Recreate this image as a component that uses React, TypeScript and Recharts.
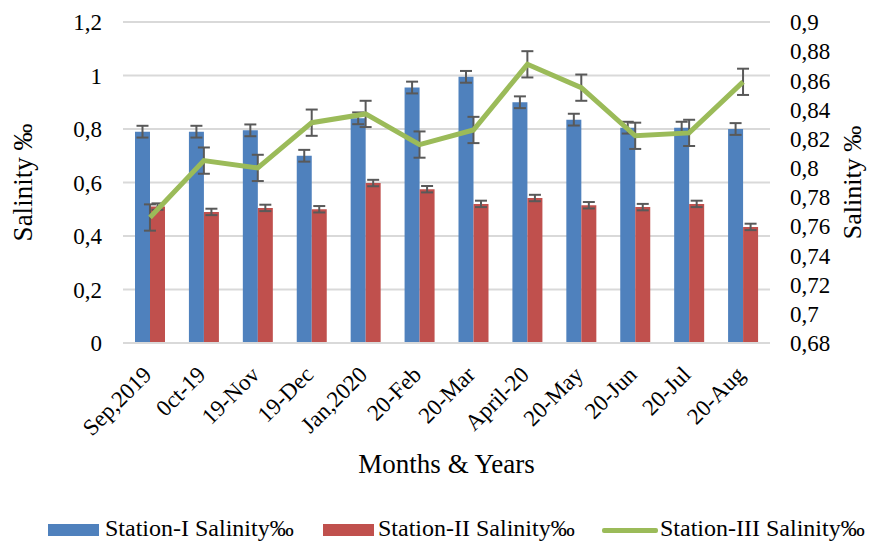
import React from 'react';
import {
  ComposedChart,
  Bar,
  Line,
  XAxis,
  YAxis,
  CartesianGrid,
  ErrorBar,
  Legend,
} from 'recharts';

const months = [
  'Sep,2019', '0ct-19', '19-Nov', '19-Dec', 'Jan,2020', '20-Feb',
  '20-Mar', 'April-20', '20-May', '20-Jun', '20-Jul', '20-Aug',
];
const station1 = [0.79, 0.79, 0.795, 0.70, 0.84, 0.955, 0.995, 0.90, 0.835, 0.805, 0.805, 0.80];
const station1Err = [0.022, 0.022, 0.022, 0.022, 0.022, 0.022, 0.022, 0.022, 0.022, 0.022, 0.022, 0.022];
const station2 = [0.51, 0.49, 0.505, 0.50, 0.598, 0.575, 0.52, 0.542, 0.515, 0.508, 0.52, 0.434];
const station2Err = [0.012, 0.012, 0.012, 0.012, 0.012, 0.012, 0.012, 0.012, 0.012, 0.012, 0.012, 0.012];
const station3 = [0.766, 0.805, 0.80, 0.831, 0.837, 0.816, 0.826, 0.871, 0.855, 0.822, 0.824, 0.859];
const station3Err = [0.009, 0.009, 0.009, 0.009, 0.009, 0.009, 0.009, 0.009, 0.009, 0.009, 0.009, 0.009];

const leftTicks = [0, 0.2, 0.4, 0.6, 0.8, 1, 1.2];
const rightTicks = [0.68, 0.7, 0.72, 0.74, 0.76, 0.78, 0.8, 0.82, 0.84, 0.86, 0.88, 0.9];

const data = months.map((m, i) => ({
  month: m,
  s1: station1[i],
  s1e: station1Err[i],
  s2: station2[i],
  s2e: station2Err[i],
  s3: station3[i],
  s3e: station3Err[i],
}));

const FONT = '"Liberation Serif", "DejaVu Serif", serif';
const comma = (v: number) => String(v).replace('.', ',');

const MonthTick = (props: any) => {
  const { x, y, payload } = props;
  return (
    <g transform={`translate(${x + 3},${y + 25})`}>
      <text
        transform="rotate(-45)"
        textAnchor="end"
        fontFamily={FONT}
        fontSize={23}
        fill="#000"
      >
        {payload.value}
      </text>
    </g>
  );
};

const LegendBox = () => (
  <div style={{ position: 'relative', height: 36, fontFamily: FONT, fontSize: 24, lineHeight: '28px', color: '#000', whiteSpace: 'nowrap' }}>
    <div style={{ position: 'absolute', left: 48, top: 16, width: 51, height: 12, background: '#4f81bd' }} />
    <span style={{ position: 'absolute', left: 105, top: 6 }}>Station-I Salinity‰</span>
    <div style={{ position: 'absolute', left: 323, top: 16, width: 51, height: 12, background: '#c0504d' }} />
    <span style={{ position: 'absolute', left: 378, top: 6 }}>Station-II Salinity‰</span>
    <div style={{ position: 'absolute', left: 602, top: 20, width: 56, height: 5, background: '#9bbb59', borderRadius: 2 }} />
    <span style={{ position: 'absolute', left: 660, top: 6 }}>Station-III Salinity‰</span>
  </div>
);

export default function App() {
  return (
    <div style={{ position: 'absolute', left: 0, top: 0, width: 869, height: 548, background: '#fff' }}>
      <ComposedChart
        width={869}
        height={548}
        data={data}
        margin={{ top: 22, right: 0, bottom: 75, left: 0 }}
        barGap={0}
        barSize={15}
      >
        <CartesianGrid yAxisId="left" vertical={false} stroke="#d9d9d9" strokeWidth={2} />
        <XAxis
          dataKey="month"
          height={130}
          interval={0}
          tickLine={false}
          axisLine={{ stroke: '#d9d9d9', strokeWidth: 2 }}
          tick={<MonthTick />}
          label={{
            value: 'Months & Years',
            position: 'insideBottom',
            offset: 0,
            fontFamily: FONT,
            fontSize: 27,
            fill: '#000',
          }}
        />
        <YAxis
          yAxisId="left"
          width={123}
          domain={[0, 1.2]}
          ticks={leftTicks}
          interval={0}
          tickLine={false}
          axisLine={false}
          tickSize={0}
          tickMargin={21}
          tickFormatter={comma}
          tick={{ fontFamily: FONT, fontSize: 23, fill: '#000' }}
          label={{
            value: 'Salinity ‰',
            angle: -90,
            position: 'insideLeft',
            offset: 22,
            fontFamily: FONT,
            fontSize: 27,
            fill: '#000',
            style: { textAnchor: 'middle' },
          }}
        />
        <YAxis
          yAxisId="right"
          orientation="right"
          width={99}
          domain={[0.68, 0.9]}
          ticks={rightTicks}
          interval={0}
          tickLine={false}
          axisLine={false}
          tickSize={0}
          tickMargin={20}
          tickFormatter={comma}
          tick={{ fontFamily: FONT, fontSize: 23, fill: '#000' }}
          label={{
            value: 'Salinity ‰',
            angle: -90,
            position: 'insideRight',
            offset: 17,
            fontFamily: FONT,
            fontSize: 26,
            fill: '#000',
            style: { textAnchor: 'middle' },
          }}
        />
        <Bar yAxisId="left" dataKey="s1" name="Station-I Salinity‰" fill="#4f81bd" isAnimationActive={false}>
          <ErrorBar dataKey="s1e" width={6} stroke="#595959" strokeWidth={2} direction="y" />
        </Bar>
        <Bar yAxisId="left" dataKey="s2" name="Station-II Salinity‰" fill="#c0504d" isAnimationActive={false}>
          <ErrorBar dataKey="s2e" width={6} stroke="#595959" strokeWidth={2} direction="y" />
        </Bar>
        <Line
          yAxisId="right"
          dataKey="s3"
          name="Station-III Salinity‰"
          stroke="#9bbb59"
          strokeWidth={5}
          dot={false}
          isAnimationActive={false}
        >
          <ErrorBar dataKey="s3e" width={6} stroke="#595959" strokeWidth={2} direction="y" />
        </Line>
        <Legend
          layout="horizontal"
          verticalAlign="middle"
          align="center"
          content={<LegendBox />}
          wrapperStyle={{ top: 508, left: 0, width: 869 }}
        />
      </ComposedChart>
    </div>
  );
}
